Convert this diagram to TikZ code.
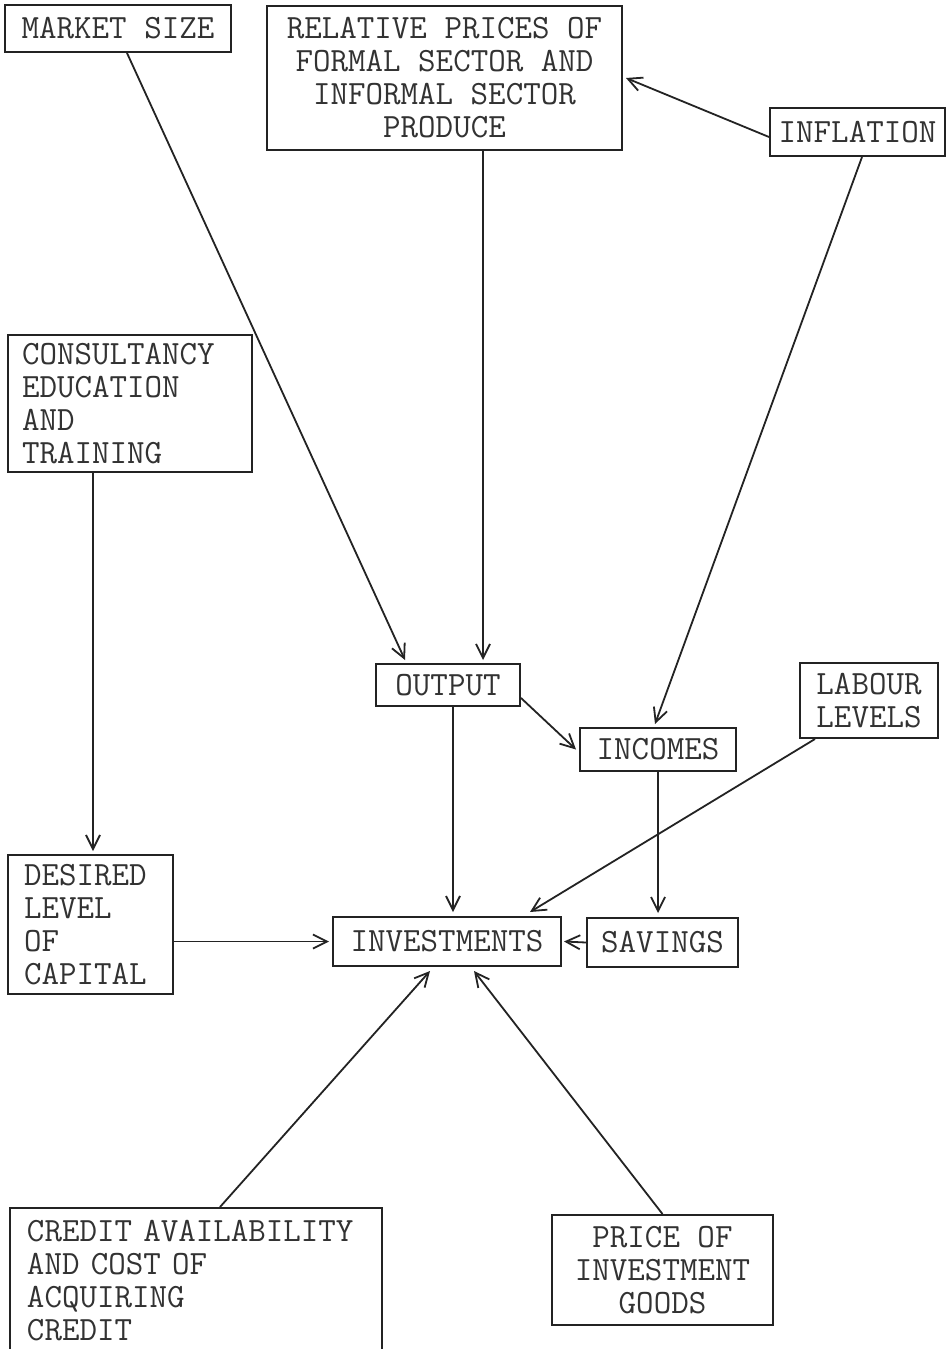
\documentclass[tikz,border=0pt]{standalone}
\usetikzlibrary{arrows.meta}
\definecolor{ink}{RGB}{35,35,35}
\definecolor{txt}{RGB}{50,50,50}
\begin{document}
\begin{tikzpicture}[x=1pt,y=-1pt,
  box/.style={draw=ink, line width=2pt, text=txt, inner sep=0pt,
    font=\fontsize{34}{33}\selectfont\ttfamily, align=center},
  lbox/.style={box, align=left, inner xsep=#1},
  arr/.style={draw=ink, line width=1.8pt, -{Straight Barb[length=14pt,width=14pt,line width=1.8pt]}}]
\useasboundingbox[fill=white] (0,0) rectangle (949,1349);

\node[box, minimum width=226pt, minimum height=47pt] (market) at (118,28.5) {MARKET SIZE};
\node[box, minimum width=355pt, minimum height=144pt] (rel) at (444.5,78)
  {RELATIVE PRICES OF\\FORMAL SECTOR AND\\INFORMAL SECTOR\\PRODUCE};
\node[box, minimum width=175pt, minimum height=48pt] (infl) at (857.5,132) {INFLATION};
\node[lbox=14pt, text width=216pt, minimum height=137pt] (consult) at (130,403.5)
  {CONSULTANCY\\EDUCATION\\AND\\TRAINING};
\node[box, minimum width=144pt, minimum height=42pt] (output) at (448,685) {OUTPUT};
\node[box, minimum width=156pt, minimum height=43pt] (incomes) at (658,749.5) {INCOMES};
\node[box, minimum width=138pt, minimum height=75pt] (labour) at (869,700.5) {LABOUR\\LEVELS};
\node[lbox=16pt, text width=133pt, minimum height=139pt] (desired) at (90.5,924.5)
  {DESIRED\\LEVEL\\OF\\CAPITAL};
\node[box, minimum width=228pt, minimum height=49pt] (invest) at (447,941.5) {INVESTMENTS};
\node[box, minimum width=151pt, minimum height=49pt] (savings) at (662.5,942.5) {SAVINGS};
\node[lbox=17pt, text width=338pt, minimum height=146pt] (credit) at (196,1281)
  {CREDIT AVAILABILITY\\AND COST OF\\ACQUIRING\\CREDIT};
\node[box, minimum width=221pt, minimum height=110pt] (price) at (662.5,1270)
  {PRICE OF\\INVESTMENT\\GOODS};

\draw[arr] ([xshift=9pt]market.south) -- ([xshift=-43pt,yshift=3pt]output.north);
\draw[arr] ([xshift=38.5pt]rel.south) -- ([xshift=35pt,yshift=3pt]output.north);
\draw[arr] ([yshift=-5pt]infl.west) -- ([xshift=3pt]rel.east);
\draw[arr] ([xshift=4.5pt]infl.south) -- ([xshift=-3pt,yshift=3pt]incomes.north);
\draw[arr] ([xshift=-37pt]consult.south) -- ([xshift=2.5pt,yshift=3pt]desired.north);
\draw[arr] ([yshift=-13pt]output.east) -- ([xshift=-3pt]incomes.west);
\draw[arr] ([xshift=5pt]output.south) -- ([xshift=6pt,yshift=4pt]invest.north);
\draw[arr] (incomes.south) -- ([xshift=-4.5pt,yshift=4pt]savings.north);
\draw[arr] ([xshift=-54pt]labour.south) -- ([xshift=83pt,yshift=4pt]invest.north);
\draw[arr] (desired.east |- invest.west) -- ([xshift=-3pt]invest.west);
\draw[arr] (savings.west) -- ([xshift=2pt]invest.east);
\draw[arr] ([xshift=24pt]credit.north) -- ([xshift=-17pt,yshift=-4pt]invest.south);
\draw[arr] (price.north) -- ([xshift=27pt,yshift=-4pt]invest.south);
\end{tikzpicture}
\end{document}
